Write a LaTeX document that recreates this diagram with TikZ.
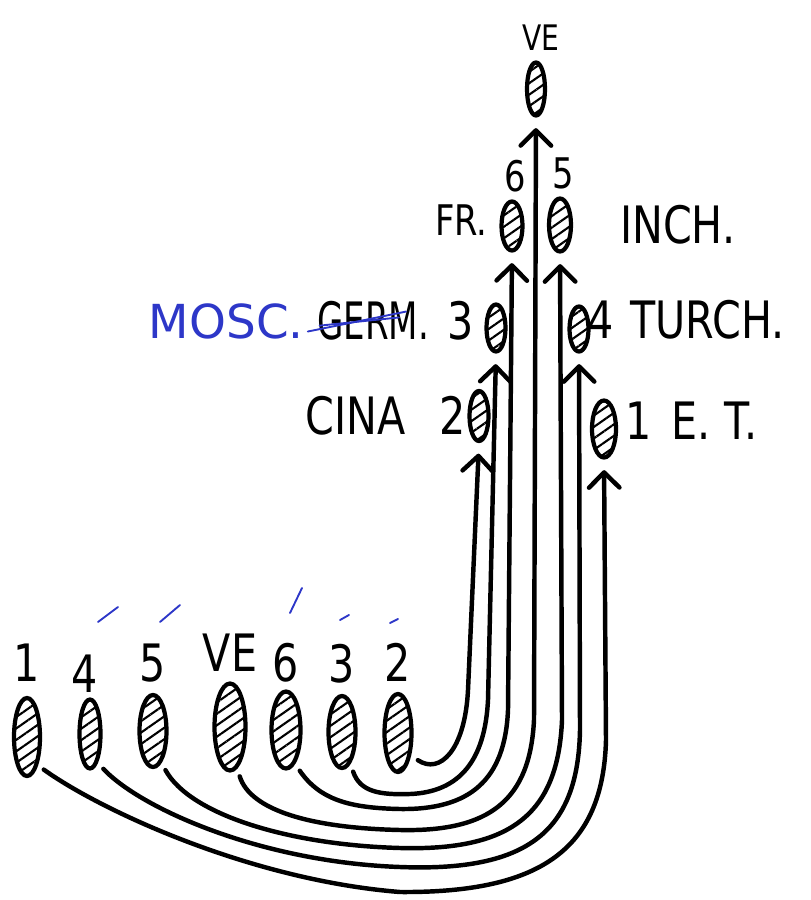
\documentclass[tikz,border=0pt]{standalone}
\usepackage{fontspec}
\newfontfamily\handfont[FakeStretch=0.8]{DejaVu Sans}
\newfontfamily\narrowfont[FakeStretch=0.66]{DejaVu Sans}
\newfontfamily\inkfont{DejaVu Sans}
\usetikzlibrary{arrows.meta,positioning,shapes.geometric,patterns.meta}
\definecolor{inkblue}{RGB}{45,55,200}

\begin{document}
\begin{tikzpicture}[x=0.03cm, y=-0.03cm,
  blob/.style={ellipse, draw, line width=3.6pt, inner sep=0pt,
    pattern={Lines[angle=35, distance=8pt, line width=1.8pt]}},
  tag/.style={inner sep=0pt, font=\handfont\fontsize{44}{48}\selectfont},
  smalltag/.style={inner sep=0pt, font=\handfont\fontsize{36}{40}\selectfont},
  route/.style={line width=3.8pt, line cap=round, shorten <=7pt, shorten >=9pt,
    -{Straight Barb[length=13pt, width=26pt, round]}},
  ink/.style={inkblue, line width=1.6pt, line cap=round}
]
  \useasboundingbox (0,0) rectangle (810,900);

  % === Bottom row ===
  \node[blob, minimum width=0.78cm, minimum height=2.34cm] (bot-1) at (27,737) {};
  \node[blob, minimum width=0.63cm, minimum height=2.07cm] (bot-4) at (90,734) {};
  \node[blob, minimum width=0.81cm, minimum height=2.16cm] (bot-5) at (153,731) {};
  \node[blob, minimum width=0.93cm, minimum height=2.61cm] (bot-ve) at (230,727) {};
  \node[blob, minimum width=0.87cm, minimum height=2.31cm] (bot-6) at (286,730) {};
  \node[blob, minimum width=0.81cm, minimum height=2.16cm] (bot-3) at (342,732) {};
  \node[blob, minimum width=0.81cm, minimum height=2.34cm] (bot-2) at (398,733) {};

  % Labels
  \node[tag, above=0.45cm of bot-1] (num-1) {1};
  \node[tag, above=0.15cm of bot-4, xshift=-5pt] (num-4) {4};
  \node[tag, above=0.3cm of bot-5] (num-5) {5};
  \node[tag, above=0.3cm of bot-ve] (num-ve) {VE};
  \node[tag, above=0.2cm of bot-6] (num-6) {6};
  \node[tag, above=0.3cm of bot-3] (num-3) {3};
  \node[tag, above=0.3cm of bot-2] (num-2) {2};

  % Ticks
  \draw[ink] (98,622) -- (118,607);
  \draw[ink] (160,622) -- (180,605);
  \draw[ink] (290,613) -- (302,588);
  \draw[ink] (340,620) -- (349,615);
  \draw[ink] (390,623) -- (398,619);

  % === Top stack ===
  \node[blob, minimum width=0.54cm, minimum height=1.59cm] (top-ve) at (536,89) {};
  \node[blob, minimum width=0.63cm, minimum height=1.47cm] (top-6) at (512,226) {};
  \node[blob, minimum width=0.66cm, minimum height=1.59cm] (top-5) at (560,225) {};
  \node[blob, minimum width=0.57cm, minimum height=1.41cm] (top-3) at (496,328) {};
  \node[blob, minimum width=0.57cm, minimum height=1.35cm] (top-4) at (579,329) {};
  \node[blob, minimum width=0.57cm, minimum height=1.50cm] (top-2) at (479,416) {};
  \node[blob, minimum width=0.72cm, minimum height=1.71cm] (top-1) at (604,429) {};

  % Labels
  \node[tag, font=\handfont\fontsize{30}{34}\selectfont, above=0.3cm of top-ve,
    xshift=4pt] (name-ve) {VE};
  \node[smalltag, above=0.2cm of top-6, xshift=3pt] (name-6) {6};
  \node[smalltag, above=0.2cm of top-5, xshift=3pt] (name-5) {5};
  \node[smalltag, left=0.35cm of top-6, yshift=5pt] (name-fr) {FR.};
  \node[tag, right=1.4cm of top-5] (name-inch) {INCH.};
  \node[tag, left=0.3cm of top-3, yshift=6pt] (name-3) {3};
  \node[tag, font=\narrowfont\fontsize{44}{48}\selectfont,
    left=0.55cm of name-3] (name-germ) {GERM.};
  \node[inner sep=0pt, text=inkblue, font=\inkfont\fontsize{40}{44}\selectfont,
    left=0.4cm of name-germ] (name-mosc) {MOSC.};
  \node[tag, right=-0.1cm of top-4, yshift=8pt] (name-4) {4~\kern3pt TURCH.};
  \node[tag, left=0.05cm of top-2] (name-2) {CINA\hspace{0.4em} 2};
  \node[tag, right=0.2cm of top-1, yshift=7pt] (name-1) {1\kern6pt{} E.\kern12pt T.};

  % Strike-through
  \draw[ink] ([shift={(-8pt,-9pt)}]name-germ.west) -- ([shift={(-20pt,8pt)}]name-germ.east);
  \draw[ink] ([shift={(2pt,-4pt)}]name-germ.west) -- ([shift={(-26pt,3pt)}]name-germ.east);

  % === Routes ===
  \draw[route] (bot-2.-60) .. controls (440,775) and (465,750) .. (468,690)
    -- (top-2.south);
  \draw[route] (bot-3.-75) .. controls (360,792) and (380,795) .. (410,794)
    .. controls (460,792) and (485,760) .. (488,700) -- (top-3.south);
  \draw[route] (bot-6.-75) .. controls (320,800) and (350,808) .. (400,809)
    .. controls (470,810) and (505,780) .. (508,710) -- (top-6.south);
  \draw[route] (bot-ve.-80) .. controls (250,810) and (310,828) .. (400,830)
    .. controls (490,832) and (530,800) .. (534,720) -- (top-ve.south);
  \draw[route] (bot-5.-75) .. controls (190,815) and (290,845) .. (400,848)
    .. controls (510,851) and (558,815) .. (562,720) -- (top-5.south);
  \draw[route] (bot-4.-75) .. controls (140,808) and (260,862) .. (400,867)
    .. controls (530,872) and (578,830) .. (580,730) -- (top-4.south);
  \draw[route] (bot-1.-70) .. controls (100,810) and (250,880) .. (400,892)
    .. controls (540,893) and (603,850) .. (606,740) -- (top-1.south);
\end{tikzpicture}
\end{document}
